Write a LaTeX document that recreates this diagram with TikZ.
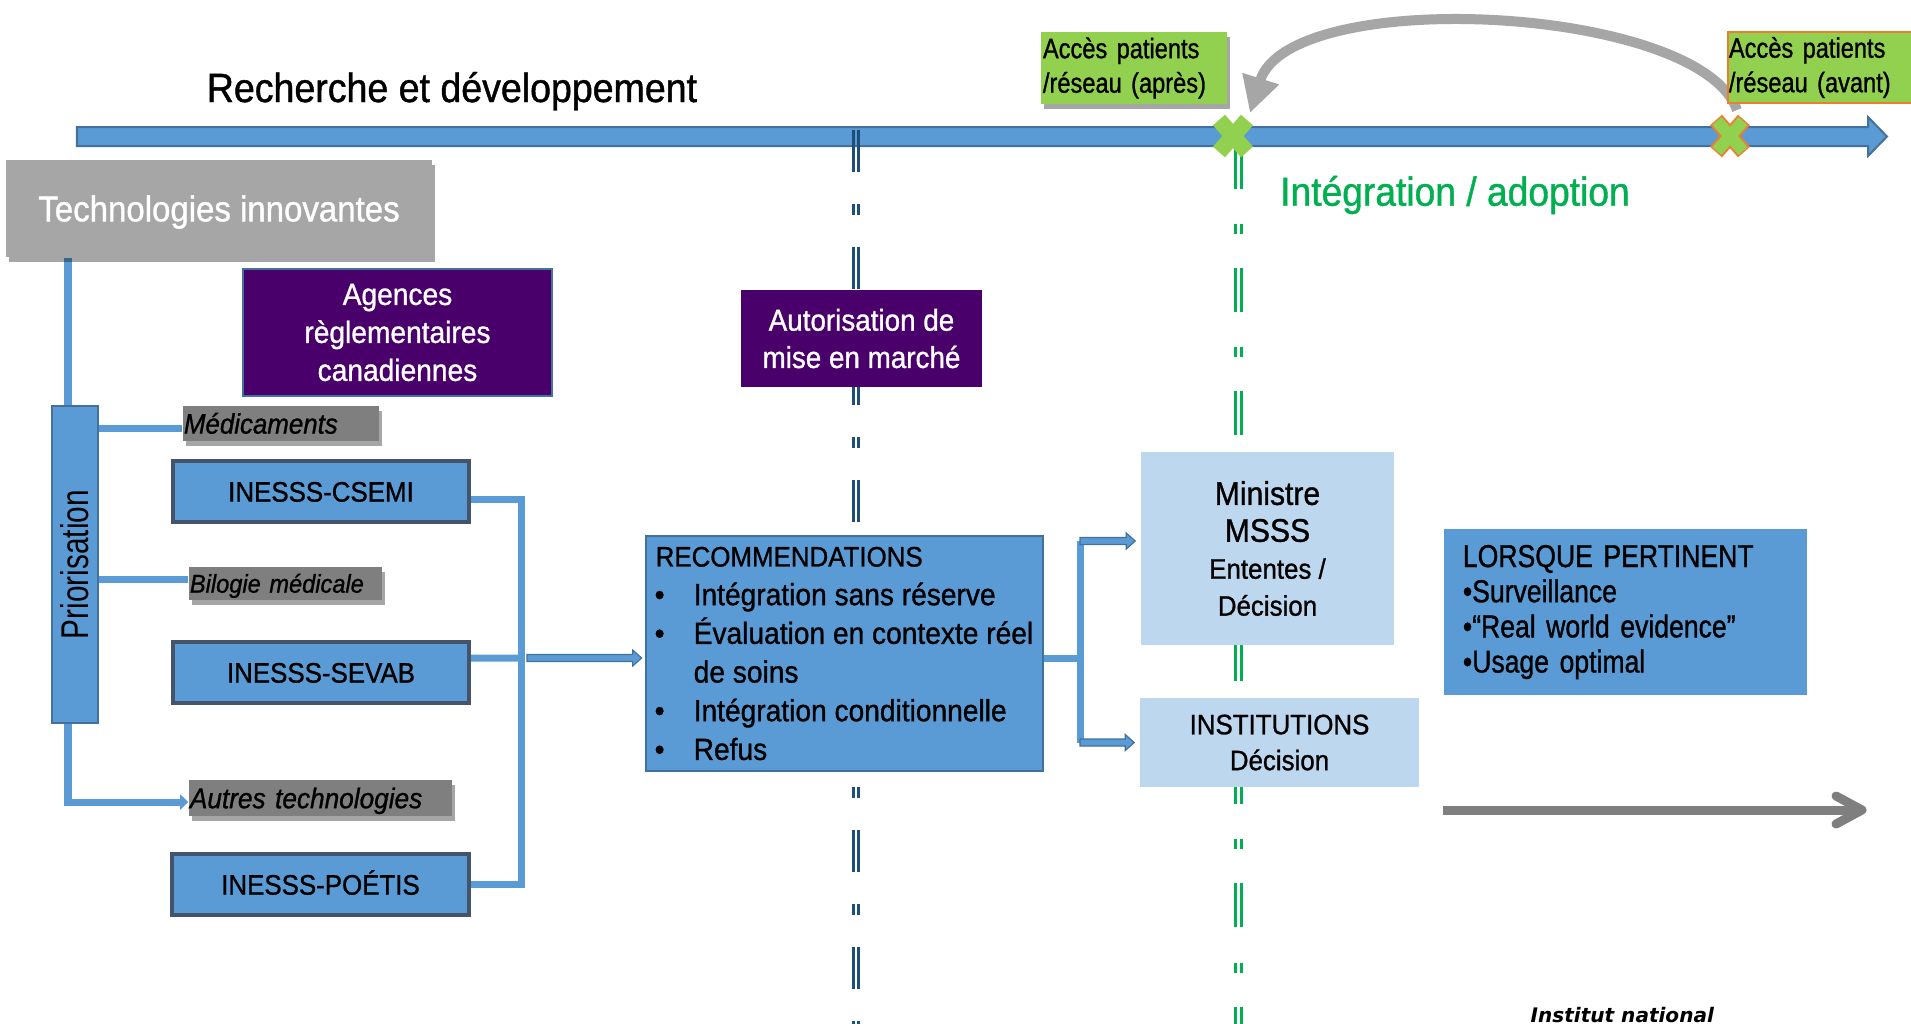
\documentclass[tikz,border=0pt]{standalone}
\usepackage{fontspec}
\setmainfont{Liberation Sans}[FakeStretch=0.92, FakeBold=1]
\newfontfamily\narrowfont{Liberation Sans}[FakeStretch=0.84, FakeBold=1]
\newfontfamily\priofont{Liberation Sans}[FakeStretch=0.77]
\newfontfamily\instfont{DejaVu Sans}
\usetikzlibrary{shadows,calc,arrows.meta,backgrounds}
\definecolor{cBlue}{HTML}{5B9BD5}
\definecolor{cBorder}{HTML}{41719C}
\definecolor{cSlate}{HTML}{44546A}
\definecolor{cPurple}{HTML}{4A006B}
\definecolor{cLight}{HTML}{BDD7EE}
\definecolor{cGreen}{HTML}{92D050}
\definecolor{cDGreen}{HTML}{00B050}
\definecolor{cOrange}{HTML}{ED7D31}
\definecolor{cGrayA}{HTML}{A6A6A6}
\definecolor{cGrayB}{HTML}{7F7F7F}
\definecolor{cNavy}{HTML}{1F4E79}
\newcommand\myfs[2]{\fontsize{#1}{#2}\selectfont}
\newcommand\bul{\makebox[0.38cm][l]{\hspace{-0.01cm}\textbullet}}
\newcommand\hblockarrow[2]{%
  \draw[barrow] let \p1=(#1), \p2=(#2) in
   (\x1,\y1+0.035cm) -- (\x2-0.09cm,\y1+0.035cm) -- (\x2-0.09cm,\y1+0.08cm) -- (\x2,\y1)
   -- (\x2-0.09cm,\y1-0.08cm) -- (\x2-0.09cm,\y1-0.035cm) -- (\x1,\y1-0.035cm) -- cycle;}
\tikzset{
  conn/.style={draw=cBlue, line width=0.07cm},
  barrow/.style={fill=cBlue, draw=cBorder, line width=0.012cm},
  shadowed/.style={drop shadow={shadow xshift=0.03cm, shadow yshift=-0.05cm, opacity=0.35, fill=black}},
  tag/.style={fill=cGrayB, shadowed, inner xsep=0.01cm, inner ysep=0pt, align=left, text depth=0pt},
  inesss/.style={fill=cBlue, draw=cSlate, line width=0.04cm, minimum width=2.96cm, minimum height=0.61cm,
    inner sep=0pt, font=\myfs{8}{9.6}, text height=5.73pt, text depth=0pt},
  purplebox/.style={fill=cPurple, text=white, inner sep=0pt, align=center},
  lightbox/.style={fill=cLight, inner sep=0pt, align=center},
  bluedash/.style={draw=cNavy, line width=0.025cm, dash pattern=on 0.42cm off 0.32cm on 0.11cm off 0.316cm},
  greendash/.style={draw=cDGreen, line width=0.03cm, dash pattern=on 0.44cm off 0.35cm on 0.10cm off 0.34cm},
  grayarrow/.style={draw=cGrayB, line width=0.09cm},
}
\begin{document}
\begin{tikzpicture}[x=0.01cm, y=-0.01cm]
\useasboundingbox (0,0) rectangle (1911,1023);
\clip (0,0) rectangle (1911,1023);

% ---------- nodes ----------
\node[font=\myfs{11.6}{14}, anchor=base, inner sep=0pt] (title) at (452,102) {Recherche et développement};
\node[text=cDGreen, font=\myfs{11.5}{14}, anchor=base, inner sep=0pt] (integ) at (1455,205.7) {Intégration / adoption};

\node[fill=cGrayA, shadowed, minimum width=4.26cm, minimum height=0.97cm, inner sep=0pt, text=white,
      font=\myfs{10.2}{12}, text height=7.3pt, text depth=0pt] (tech) at (219,208.5) {Technologies innovantes};

\node[purplebox, draw=cBorder, line width=0.025cm, minimum width=3.09cm, minimum height=1.27cm,
      font=\myfs{8.7}{10.8}] (agences) at (397.5,332.5) {Agences\\règlementaires\\canadiennes};

\node[fill=cBlue, draw=cBorder, line width=0.02cm, minimum width=0.46cm, minimum height=3.17cm, inner sep=0pt] (prio) at (75,564.5) {};
\node[rotate=90, font=\priofont\myfs{11}{13}, text height=7.9pt, text depth=0pt, inner sep=0pt] (priotxt) at (prio.center) {Priorisation};

\node[tag, text width=1.94cm, minimum height=0.35cm, font=\itshape\myfs{8}{9}, text height=5.73pt] (medic) at (281,423.5) {Médicaments};
\node[tag, text width=1.91cm, minimum height=0.33cm, font=\itshape\myfs{7.3}{9}, text height=5.2pt] (bilog) at (285.5,583.5) {Bilogie médicale};
\node[tag, text width=2.61cm, minimum height=0.36cm, font=\itshape\myfs{8.1}{9}, text height=5.8pt] (autres) at (320.5,798) {Autres technologies};

\node[inesss] (csemi) at (321,491.5) {INESSS-CSEMI};
\node[inesss] (sevab) at (321,672.5) {INESSS-SEVAB};
\node[inesss] (poetis) at (320.5,884.5) {INESSS-POÉTIS};

\node[purplebox, minimum width=2.41cm, minimum height=0.97cm, font=\myfs{8.6}{10.6}] (autor) at (861.5,338.5) {Autorisation de\\mise en marché};

\node[fill=cBlue, draw=cBorder, line width=0.025cm, minimum width=3.97cm, minimum height=2.35cm, inner sep=0pt,
      align=left, font=\myfs{8.7}{11}] (rec) at (844.5,653.5)
  {{\myfs{8}{11}RECOMMENDATIONS}\\
   \bul Intégration sans réserve\\
   \bul Évaluation en contexte réel\\
   \hspace*{0.38cm}de soins\\
   \bul Intégration conditionnelle\\
   \bul Refus};

\node[lightbox, minimum width=2.53cm, minimum height=1.93cm, font=\myfs{8}{10.5}] (ministre) at (1267.5,548.5)
  {{\myfs{9.3}{10.5}Ministre}\\{\myfs{9.3}{10.5}MSSS}\\Ententes /\\Décision};
\node[lightbox, minimum width=2.79cm, minimum height=0.89cm, font=\myfs{8}{10.2}] (instit) at (1279.5,742.5)
  {INSTITUTIONS\\Décision};

\node[fill=cBlue, minimum width=3.63cm, minimum height=1.66cm, inner sep=0pt, font=\narrowfont\myfs{9}{10},
      align=left, text width=3.25cm] (lorsque) at (1625.5,612)
  {LORSQUE PERTINENT\\\textbullet Surveillance\\\textbullet “Real world evidence”\\\textbullet Usage optimal};

\node[fill=cGreen, shadowed, minimum width=1.86cm, minimum height=0.72cm, inner sep=0pt, font=\narrowfont\myfs{8}{9.8},
      align=left, text width=1.82cm] (acces1) at (1134,68) {Accès patients\\/réseau (après)};
\node[fill=cGreen, draw=cOrange, line width=0.02cm, minimum width=2.2cm, minimum height=0.71cm, inner sep=0pt,
      font=\narrowfont\myfs{8}{9.8}, align=left, text width=2.18cm] (acces2) at (1838,67.5) {Accès patients\\/réseau (avant)};

\node[font=\instfont\bfseries\itshape\myfs{5.7}{7}, anchor=base west, inner sep=0pt] (inst) at (1530,1022) {Institut national};

% ---------- coordinates ----------
\coordinate (trunk) at (68,0);
\coordinate (brk) at (521.5,658);
\coordinate (brkout) at (527,658);
\coordinate (split) at (1080,658);
\coordinate (mArr) at ([yshift=0.075cm]ministre.west);
\coordinate (iArr) at (instit.west);
\coordinate (gA) at (1443,810);
\coordinate (gB) at (1862,810);
\coordinate (xa) at (1233,136);
\coordinate (xb) at (1730,136);
\coordinate (cS) at (1737,110);
\coordinate (cE) at (1250,113);

% ---------- background layer ----------
\begin{pgfonlayer}{background}
\fill[white] (0,0) rectangle (1911,1023);
% curved gray arrow
\draw[cGrayA, line width=0.10cm, -{Triangle[length=0.36cm,width=0.36cm]}] (cS) .. controls (1700,5) and (1290,-15) .. (cE);
% timeline bar
\filldraw[fill=cBlue, draw=cBorder, line width=0.02cm] (77,127) -- (1868,127) -- (1868,117) -- (1887,136.5)
  -- (1868,156) -- (1868,146) -- (77,146) -- cycle;
% dashed milestones
\draw[bluedash] (853.5,130) -- (853.5,1040);
\draw[bluedash] (858.5,130) -- (858.5,1040);
\draw[greendash] (1235.5,145) -- (1235.5,1040);
\draw[greendash] (1241.5,145) -- (1241.5,1040);
% connectors
\draw[conn, -{Triangle[length=0.08cm,width=0.15cm]}] (tech.south -| trunk) |- ([yshift=-0.04cm]autres.west);
\draw[conn] ([yshift=-0.05cm]medic.west -| prio.east) -- ([yshift=-0.05cm]medic.west);
\draw[conn] ([yshift=0.04cm]bilog.west -| prio.east) -- ([yshift=0.04cm]bilog.west);
\draw[conn] ([yshift=-0.075cm]csemi.east) -| (brk) |- (poetis.east);
\draw[conn] ([yshift=0.145cm]sevab.east) -- (brk);
\hblockarrow{brkout}{[xshift=-0.03cm]rec.west}
\draw[conn] (rec.east |- split) -- (split);
\draw[conn] (mArr -| split) -- (iArr -| split);
\hblockarrow{mArr -| split}{[xshift=-0.05cm]mArr}
\hblockarrow{iArr -| split}{[xshift=-0.05cm]iArr}
% gray arrow bottom right
\draw[grayarrow] (gA) -- (gB);
\draw[grayarrow, line cap=round, line join=round] ($(gB)+(-26,-14)$) -- (gB) -- ($(gB)+(-26,14)$);
\end{pgfonlayer}

% ---------- X markers ----------
\draw[cGreen, line width=0.16cm] ($(xa)+(-14,-16)$) -- ($(xa)+(14,16)$) ($(xa)+(14,-16)$) -- ($(xa)+(-14,16)$);
\draw[cOrange, line width=0.16cm] ($(xb)+(-14,-16)$) -- ($(xb)+(14,16)$) ($(xb)+(14,-16)$) -- ($(xb)+(-14,16)$);
\draw[cGreen, line width=0.12cm] ($(xb)+(-13,-15)$) -- ($(xb)+(13,15)$) ($(xb)+(13,-15)$) -- ($(xb)+(-13,15)$);
\end{tikzpicture}
\end{document}
